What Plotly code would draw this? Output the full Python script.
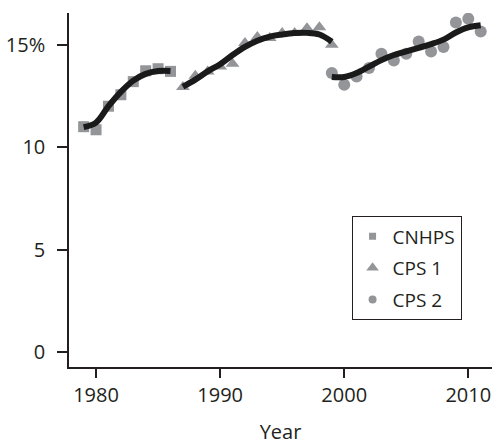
import plotly.graph_objects as go

# Observed shares by survey and year
cnhps_years = list(range(1979, 1987))
cnhps_vals = [11.0, 10.85, 12.0, 12.56, 13.2, 13.73, 13.83, 13.7]

cps1_years = list(range(1987, 2000))
cps1_vals = [12.94, 13.49, 13.7, 13.94, 14.07, 15.08, 15.38, 15.33, 15.57, 15.57, 15.81, 15.86, 15.0]

cps2_years = list(range(1999, 2012))
cps2_vals = [13.62, 13.05, 13.45, 13.86, 14.56, 14.23, 14.56, 15.16, 14.67, 14.89, 16.09, 16.27, 15.65]

# Smoothed trend for each survey
cnhps_trend = [10.98, 11.2, 12.0, 12.7, 13.25, 13.58, 13.72, 13.72]
cps1_trend = [12.95, 13.3, 13.7, 14.05, 14.5, 14.9, 15.2, 15.4, 15.5, 15.57, 15.58, 15.5, 15.15]
cps2_trend = [13.43, 13.43, 13.62, 13.93, 14.25, 14.5, 14.68, 14.85, 15.03, 15.25, 15.6, 15.85, 15.95]

# Axis ticks
y_ticks = [0, 5, 10, 15]
y_tick_text = ["0", "5", "10", "15%"]
x_ticks = [1980, 1990, 2000, 2010]

FONT = "Open Sans"
INK = "#231f20"
GREY = "#939598"

fig = go.Figure()

series = [
    ("CNHPS", cnhps_years, cnhps_vals, "square", 11, 7),
    ("CPS 1", cps1_years, cps1_vals, "triangle-up", 12, 11),
    ("CPS 2", cps2_years, cps2_vals, "circle", 12, 8),
]

for name, xs, ys, sym, size, _ in series:
    fig.add_trace(go.Scatter(
        x=xs, y=ys, mode="markers", name=name, showlegend=False,
        marker=dict(symbol=sym, size=size, color=GREY, line=dict(width=0)),
    ))

for xs, ys in [(cnhps_years, cnhps_trend), (cps1_years, cps1_trend), (cps2_years, cps2_trend)]:
    fig.add_trace(go.Scatter(
        x=xs, y=ys, mode="lines", showlegend=False,
        line=dict(color="#1a1a1a", width=6, shape="spline", smoothing=1.0),
    ))

# Legend entries with smaller symbols
for i, (name, xs, ys, sym, size, lsize) in enumerate(series):
    fig.add_trace(go.Scatter(
        x=[None], y=[None], mode="markers", name=name, legendgroup=str(i),
        marker=dict(symbol=sym, size=lsize, color=GREY, line=dict(width=0)),
    ))

fig.update_layout(
    width=492, height=447,
    margin=dict(l=69, r=0, t=13, b=80),
    paper_bgcolor="white", plot_bgcolor="white",
    font=dict(family=FONT, size=20, color=INK),
    legend=dict(
        x=0.668, y=0.4257, xanchor="left", yanchor="top",
        bordercolor=INK, borderwidth=1, bgcolor="white",
        font=dict(family=FONT, size=19, color=INK),
        itemwidth=30, tracegroupgap=4, traceorder="grouped",
    ),
    xaxis=dict(
        range=[1977.82, 2011.91], tickvals=x_ticks,
        showgrid=False, zeroline=False, showline=True, linecolor=INK, linewidth=1.5,
        ticks="outside", ticklen=9, tickcolor=INK, tickwidth=1.5,
        tickfont=dict(family=FONT, size=20, color=INK),
        title=dict(text="Year", font=dict(family=FONT, size=20, color=INK), standoff=18),
    ),
    yaxis=dict(
        range=[-0.73, 16.55], tickvals=y_ticks, ticktext=y_tick_text,
        showgrid=False, zeroline=False, showline=True, linecolor=INK, linewidth=1.5,
        ticks="outside", ticklen=10, tickcolor=INK, tickwidth=1.5,
        tickfont=dict(family=FONT, size=20, color=INK),
        ticklabelstandoff=8,
    ),
)

fig.write_html("out.html")
